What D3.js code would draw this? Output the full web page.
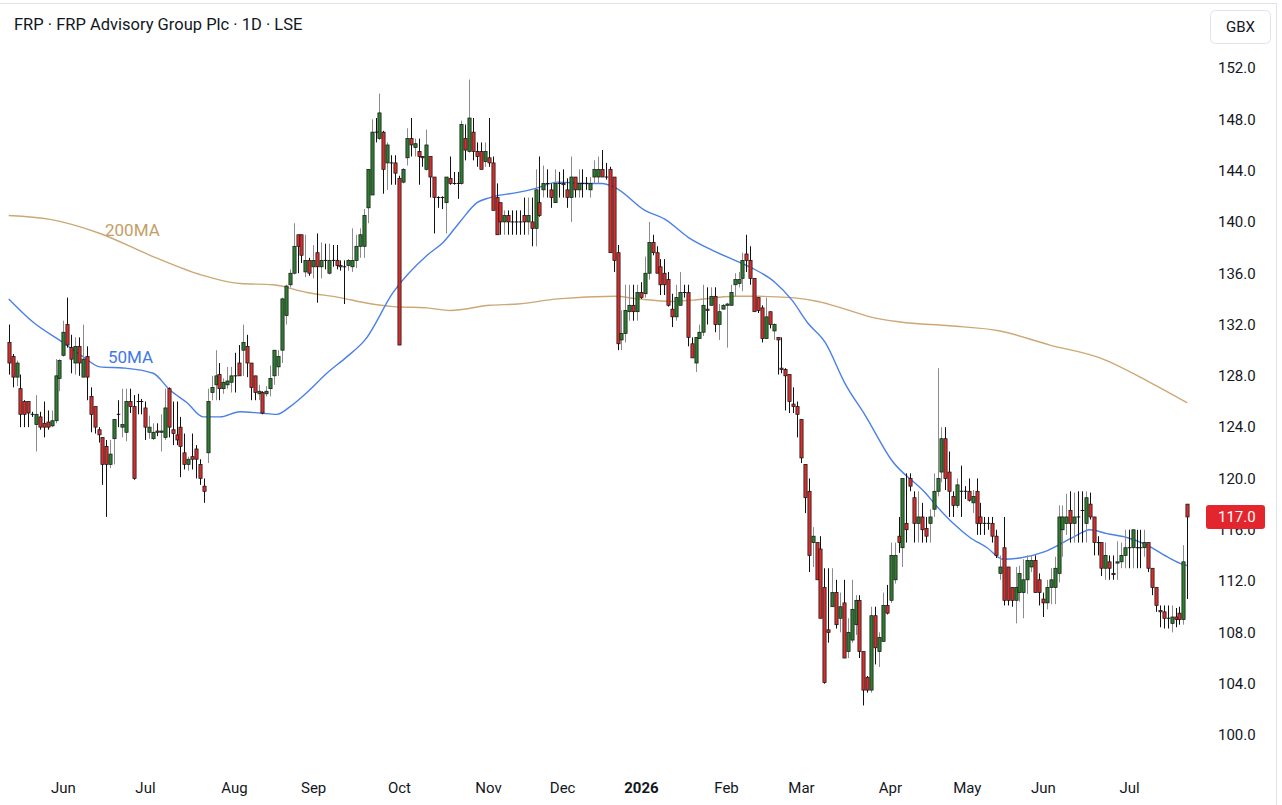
<!DOCTYPE html>
<html><head><meta charset="utf-8">
<script src="https://cdn.jsdelivr.net/npm/d3@7/dist/d3.min.js"></script>
<style>
html,body{margin:0;padding:0;background:#fff;}
svg{display:block;font-family:Roboto,"Noto Sans",sans-serif;}
</style></head><body>
<svg id="c" width="1282" height="805"></svg>
<script>
const openP=[
130.6,129.5,127.9,127.0,126.0,126.0,125.0,124.2,124.8,124.3,
124.4,124.1,124.5,127.8,129.6,132.0,130.2,129.0,130.3,127.9,
129.5,126.4,125.6,123.8,123.2,122.5,121.1,123.1,125.0,124.0,
123.6,126.0,125.6,126.0,126.0,125.5,123.6,123.1,123.7,123.6,
123.2,127.0,123.8,123.4,124.0,122.0,121.1,121.7,122.3,121.1,
119.4,122.0,126.7,127.3,128.1,127.0,127.3,127.5,128.0,129.0,
130.0,130.3,129.0,128.0,126.6,126.7,126.6,127.0,128.0,128.7,
130.0,132.7,135.1,136.0,139.0,139.0,136.1,137.0,136.5,137.6,
136.5,137.0,136.0,137.0,137.0,136.6,136.5,136.6,136.5,137.0,
138.1,138.1,141.1,142.1,147.0,146.5,147.0,144.6,144.6,144.6,
143.4,143.1,145.0,146.5,145.8,145.5,145.1,144.1,145.1,143.5,
141.9,141.9,141.5,143.4,143.0,143.0,143.0,146.5,145.5,147.0,
145.5,145.5,144.7,145.0,144.6,141.9,141.5,140.0,140.5,140.0,
140.0,140.0,140.5,140.0,140.0,139.5,141.5,142.5,143.0,142.5,
141.5,143.0,143.0,142.5,141.9,143.5,142.5,143.0,143.0,142.5,
143.5,143.5,144.1,143.5,144.1,143.5,137.6,130.8,131.3,133.0,
133.5,133.0,134.5,134.4,136.0,138.4,137.6,136.5,136.0,135.5,
133.2,132.6,133.5,134.5,134.5,130.5,129.0,130.9,131.4,133.2,
133.5,134.2,132.0,133.2,133.5,133.5,135.1,135.2,135.6,137.5,
137.0,135.6,134.1,133.3,130.9,133.0,131.5,131.0,128.6,128.5,
128.1,125.8,125.6,124.6,121.1,119.0,115.0,115.0,114.5,111.5,
108.2,110.0,111.1,109.1,110.3,106.5,107.4,108.6,110.5,106.5,
104.5,103.5,109.3,106.5,107.3,110.1,110.5,112.1,115.5,114.6,
116.5,120.0,118.5,116.5,117.0,116.1,116.5,117.6,119.0,120.5,
123.1,120.5,118.6,117.9,119.0,119.0,119.0,118.1,119.0,117.0,
116.5,116.5,116.5,115.5,112.6,114.6,113.1,111.5,110.5,111.1,
111.1,112.1,113.1,113.6,112.1,110.6,110.3,111.5,111.5,112.6,
116.0,116.5,117.5,116.5,117.0,117.5,116.5,118.0,117.0,115.0,
115.0,113.0,113.5,112.6,113.4,113.5,114.0,114.6,114.6,114.6,
114.6,114.6,115.0,113.0,111.5,109.7,109.6,109.1,108.7,109.2,
109.5,109.0,118.0];
const highP=[
132.0,129.7,129.2,128.1,126.1,126.0,125.2,126.5,125.2,126.0,
125.3,125.3,129.3,129.3,132.3,134.1,131.2,131.0,131.0,132.0,
130.3,127.1,125.6,124.0,123.2,123.0,123.0,124.6,126.1,127.0,
127.0,127.0,126.5,126.6,126.2,126.0,124.9,124.3,124.3,125.0,
127.0,127.1,126.0,126.0,124.8,123.5,121.7,123.5,122.6,121.5,
120.0,127.0,128.0,130.0,129.0,127.8,128.7,128.7,129.8,130.4,
132.0,131.2,129.0,128.0,127.3,126.8,127.2,128.8,130.0,130.0,
134.1,135.1,136.3,139.9,139.0,139.0,139.0,137.2,138.2,139.1,
138.4,138.3,138.3,138.2,138.2,137.0,137.0,137.1,139.5,139.0,
139.5,141.0,144.1,148.0,148.1,150.0,147.1,146.2,145.2,145.2,
143.6,144.2,147.3,148.1,146.5,146.5,145.1,147.2,145.1,143.5,
142.0,142.0,143.5,145.1,143.9,143.9,147.9,147.6,151.1,148.1,
146.2,146.2,146.2,148.1,145.1,143.0,141.5,140.9,140.9,140.9,
140.9,140.9,141.9,141.9,141.9,144.1,145.1,144.4,144.1,143.0,
144.1,143.9,144.1,143.4,145.1,143.5,144.1,144.1,143.5,143.5,
144.8,145.1,145.6,144.6,144.3,143.5,138.2,133.1,135.1,135.1,
135.1,135.1,135.3,137.3,140.0,139.0,138.1,137.1,137.1,136.1,
134.4,135.1,136.1,135.1,135.1,131.0,131.0,132.0,135.1,134.9,
134.9,134.9,133.6,133.6,133.7,135.1,136.0,136.1,137.6,139.0,
138.1,135.6,134.1,133.5,134.1,133.0,132.1,131.0,131.0,128.6,
128.1,127.1,126.0,124.6,121.1,120.0,116.2,115.0,115.5,113.0,
113.0,113.0,112.1,111.1,112.1,109.1,112.1,110.9,110.9,106.5,
104.6,110.0,110.0,108.0,111.1,111.7,115.0,115.0,117.0,120.0,
120.4,120.4,119.0,119.0,118.1,117.0,117.6,120.4,128.6,124.0,
124.0,122.1,119.0,120.0,121.0,119.4,120.0,119.1,120.0,118.1,
117.0,117.0,117.0,116.0,114.0,117.0,113.1,111.5,113.1,113.2,
113.7,114.0,114.0,114.0,112.6,111.1,112.1,113.0,113.9,117.9,
117.9,118.8,119.0,118.9,119.0,119.0,119.0,118.9,117.0,115.5,
115.0,115.0,114.0,114.0,115.1,115.0,116.0,116.0,116.0,116.0,
116.0,116.0,115.0,113.0,111.5,110.1,110.1,110.1,110.1,109.9,
110.0,114.8,118.0];
const lowP=[
128.1,127.1,127.2,124.0,124.0,124.0,124.8,122.1,123.8,123.2,
123.8,124.0,124.3,126.8,129.5,130.2,128.2,128.1,128.0,127.9,
126.1,123.6,123.5,122.8,119.5,117.0,120.8,121.1,124.0,123.2,
122.9,125.1,119.9,125.0,125.0,123.0,123.1,123.0,123.3,122.1,
123.0,123.2,122.6,122.6,120.1,120.7,120.6,120.7,120.0,119.5,
118.1,121.2,126.1,126.1,126.1,126.6,127.0,126.7,126.7,128.0,
128.0,127.9,126.1,126.1,126.1,125.0,126.4,126.4,127.3,128.0,
129.0,132.0,134.9,135.9,136.0,136.8,135.7,135.8,135.6,133.7,
135.6,136.3,135.9,136.5,136.3,136.2,133.6,136.2,136.1,136.4,
137.2,137.2,139.9,142.1,146.2,146.4,142.2,142.5,142.9,142.9,
130.4,143.0,144.4,145.1,145.1,142.9,144.3,144.0,141.9,139.1,
141.1,141.0,139.1,142.9,142.9,141.8,142.9,144.8,145.4,144.8,
144.3,144.1,144.3,144.3,140.9,139.0,139.0,139.0,139.0,139.0,
139.0,139.0,139.0,139.0,138.1,138.1,140.4,141.9,141.9,141.1,
141.5,141.9,141.9,141.1,140.0,141.9,141.9,141.9,142.5,141.9,
143.0,143.0,143.5,143.3,137.6,136.1,130.0,130.0,130.6,132.3,
132.3,132.3,134.0,134.1,135.5,137.4,136.0,134.3,134.3,133.4,
131.8,132.3,133.5,134.1,130.3,129.4,128.3,130.9,131.1,132.0,
133.5,131.4,130.8,133.2,130.2,133.5,134.2,134.9,134.6,136.1,
135.1,133.0,132.9,130.6,130.9,131.7,130.8,128.1,128.2,125.3,
125.1,125.1,123.2,121.2,117.3,112.7,113.1,112.1,109.1,104.0,
107.2,110.0,108.3,108.0,106.0,106.0,107.2,107.8,106.0,102.3,
103.3,103.3,105.5,105.3,107.3,109.4,110.3,111.8,114.2,113.1,
115.0,119.0,115.0,115.0,115.0,115.0,115.0,117.0,118.6,119.7,
119.1,117.0,117.0,117.7,117.0,118.4,118.2,117.3,115.6,115.6,
115.6,116.0,115.0,113.8,112.1,110.1,110.1,110.0,108.7,110.4,
109.1,111.0,112.7,111.1,110.1,109.2,109.8,110.2,110.2,111.9,
113.9,115.6,115.0,115.0,115.0,115.0,115.0,116.8,114.0,114.0,
112.4,112.1,112.1,112.1,112.1,113.0,113.0,113.0,113.0,113.0,
113.0,113.9,112.7,110.9,109.6,108.4,108.3,108.3,108.0,108.4,
108.6,108.6,110.6];
const closeP=[
129.0,127.9,129.0,125.0,125.0,125.1,125.0,125.0,124.0,124.0,
124.0,124.5,128.0,129.2,131.4,130.4,129.3,130.3,129.0,129.3,
127.9,125.0,124.0,123.4,121.1,121.1,121.9,124.6,125.0,124.2,
126.0,125.6,120.0,126.0,126.0,124.0,124.0,123.6,123.6,123.7,
125.5,124.0,123.5,123.0,122.5,121.1,121.5,121.5,121.5,120.0,
119.0,126.0,127.1,128.0,127.0,127.5,127.6,128.0,128.0,128.0,
130.6,129.0,127.1,126.7,126.8,125.1,126.8,127.8,130.0,129.5,
134.0,135.0,136.0,138.1,138.1,137.4,137.0,136.0,137.0,136.5,
137.0,137.0,137.0,137.0,136.6,136.5,136.5,137.0,137.0,138.1,
139.0,140.5,144.1,147.0,147.0,148.5,144.1,146.0,144.6,143.8,
130.4,144.1,146.5,146.0,146.1,145.1,145.0,146.0,143.5,141.9,
141.9,141.9,143.5,143.0,143.0,143.0,147.6,145.6,148.1,145.5,
145.1,144.1,145.5,144.6,140.9,139.0,140.0,140.5,140.0,140.0,
140.0,140.0,140.0,140.5,139.5,142.5,140.5,143.0,143.0,141.9,
143.0,143.0,142.9,141.9,143.5,142.5,143.0,143.0,143.0,143.0,
144.1,144.1,143.5,143.5,137.6,137.0,130.5,131.3,133.1,133.5,
133.0,134.5,134.1,136.0,138.4,137.6,136.0,135.1,135.1,133.5,
132.6,134.1,134.5,134.5,131.0,129.4,131.0,131.4,133.5,133.1,
134.2,132.0,133.0,133.5,133.6,134.5,135.5,135.5,137.0,137.0,
135.6,133.0,133.1,130.9,132.6,132.0,132.0,130.8,128.5,128.0,
126.0,125.6,125.0,121.6,118.5,114.0,115.5,112.1,109.1,104.1,
108.0,111.1,108.6,110.0,106.0,108.0,109.8,110.5,106.5,103.5,
103.5,109.3,106.8,107.6,110.1,109.5,114.0,114.0,115.0,120.0,
116.0,119.4,116.5,117.0,116.0,115.5,117.0,119.0,120.0,123.1,
120.0,119.0,117.9,119.5,119.0,119.0,118.3,118.6,116.5,116.5,
116.5,116.5,115.5,114.0,113.1,110.5,110.5,110.5,111.5,112.6,
112.1,113.6,113.6,111.1,111.1,110.3,111.5,112.1,113.0,117.0,
117.0,117.0,116.5,117.0,117.0,117.5,118.5,117.0,115.0,115.0,
113.0,114.0,113.0,112.5,113.5,114.0,114.6,114.6,116.0,114.6,
114.6,115.0,113.0,111.5,110.1,109.6,109.1,109.1,109.2,109.0,
109.0,113.5,117.0];

const ma50Idx=[0,6.2,13.9,19.0,23.4,29.8,37.0,41.3,45.7,49.8,54.1,59.2,64.4,68.7,72.1,76.4,81.5,86.7,91.3,98.5,107.2,111.3,115.6,120.0,123.3,130.5,134.8,140.7,147.7,152.0,155.3,163.0,168.2,174.1,180.2,186.1,190.5,196.3,200.7,204.8,209.2,214.3,219.5,226.3,234.8,237.9,242.0,246.3,250.7,254.8,259.1,265.5,272.7,277.1,281.4,286.5,291.7,296.8,300.9,302];
const ma50Val=[134.0,132.2,130.6,129.5,128.7,128.6,128.2,126.9,125.9,124.8,124.8,125.2,125.1,125.0,125.6,126.7,128.2,129.5,130.8,134.5,137.4,138.4,140.0,141.5,141.9,142.3,142.6,143.1,143.0,143.0,142.7,140.9,140.2,138.8,137.8,137.0,136.4,135.3,133.9,132.1,130.6,127.4,124.9,121.4,118.9,117.8,116.5,115.4,114.6,113.7,113.8,114.3,115.4,116.0,115.7,115.4,114.8,113.9,113.3,113.2];
const ma200Idx=[0,10.6,23.4,36.2,49.0,59.3,67.7,76.4,84.9,91.3,98.5,107.2,113.1,123.3,130.5,140.7,155.3,161.2,170.0,175.1,186.1,192.0,200.7,207.4,214.3,220.7,228.4,241.2,254.0,266.8,279.6,292.4,302];
const ma200Val=[140.5,140.2,139.1,137.4,135.9,135.2,135.1,134.5,134.1,133.7,133.4,133.3,133.1,133.5,133.6,134.0,134.2,134.0,133.8,133.9,134.2,134.2,134.1,133.8,133.2,132.6,132.2,131.9,131.5,130.4,129.4,127.5,125.9];

const monthLabels=["Jun","Jul","Aug","Sep","Oct","Nov","Dec","2026","Feb","Mar","Apr","May","Jun","Jul"];
const monthIdx=[13.9,34.9,57.7,78.0,100,122.8,141.8,162.0,183.8,203.0,225.8,245.5,265.0,287.1];
const priceTicks=[100,104,108,112,116,120,124,128,132,136,140,144,148,152];
const lastPrice=117.0;
const titleText="FRP \u00b7 FRP Advisory Group Plc \u00b7 1D \u00b7 LSE";

const svg=d3.select('#c');
const W=1282,H=805;
const n=closeP.length;
const x=d3.scaleLinear().domain([0,n-1]).range([8.75,1187.3]);
const y=d3.scaleLinear().domain([100,152]).range([735,68]);

svg.append('rect').attr('width',W).attr('height',H).attr('fill','#fff');
// frame
svg.append('line').attr('x1',0).attr('x2',1277).attr('y1',3.5).attr('y2',3.5).attr('stroke','#e0e3eb');
svg.append('line').attr('x1',1276.5).attr('x2',1276.5).attr('y1',3).attr('y2',H).attr('stroke','#e0e3eb');

svg.append('clipPath').attr('id','pc').append('rect').attr('x',0).attr('y',4).attr('width',1198).attr('height',765);
const plot=svg.append('g').attr('clip-path','url(#pc)');

// moving averages
const line=d3.line().x(d=>x(d[0])).y(d=>y(d[1])).curve(d3.curveMonotoneX);
plot.append('path').datum(ma200Idx.map((v,i)=>[v,ma200Val[i]]))
  .attr('d',line).attr('fill','none').attr('stroke','#cda874').attr('stroke-width',1.4);
plot.append('path').datum(ma50Idx.map((v,i)=>[v,ma50Val[i]]))
  .attr('d',line).attr('fill','none').attr('stroke','#4a80e8').attr('stroke-width',1.4);

// candles
const data=d3.range(n).map(i=>({i,o:openP[i],h:highP[i],l:lowP[i],c:closeP[i]}));
const cg=plot.append('g');
const bw=3.2;
cg.selectAll('line.w').data(data).join('line').attr('class','w')
  .attr('x1',d=>Math.round(x(d.i))+0.5).attr('x2',d=>Math.round(x(d.i))+0.5)
  .attr('y1',d=>y(d.h)).attr('y2',d=>y(d.l))
  .attr('stroke',d=>d.c>d.o?'#8c8c8c':'#111').attr('stroke-width',1);
cg.selectAll('rect.b').data(data.filter(d=>Math.abs(y(d.o)-y(d.c))>=1.2)).join('rect').attr('class','b')
  .attr('x',d=>Math.round(x(d.i))+0.5-bw/2).attr('width',bw)
  .attr('y',d=>y(Math.max(d.o,d.c))).attr('height',d=>Math.abs(y(d.o)-y(d.c)))
  .attr('fill',d=>d.c>d.o?'#2e7d32':'#d32f2f').attr('stroke','#111').attr('stroke-width',0.7);
cg.selectAll('line.dj').data(data.filter(d=>Math.abs(y(d.o)-y(d.c))<1.2)).join('line').attr('class','dj')
  .attr('x1',d=>Math.round(x(d.i))+0.5-bw/2-0.2).attr('x2',d=>Math.round(x(d.i))+0.5+bw/2+0.2)
  .attr('y1',d=>y((d.o+d.c)/2)).attr('y2',d=>y((d.o+d.c)/2))
  .attr('stroke','#111').attr('stroke-width',1);

// MA labels
svg.append('text').attr('x',105).attr('y',236).attr('font-size',17).attr('fill','#c49e66').text('200MA');
svg.append('text').attr('x',108).attr('y',363).attr('font-size',17).attr('fill','#3f78e6').text('50MA');

// title
svg.append('text').attr('x',14).attr('y',30).attr('font-size',16.5).attr('fill','#131722').text(titleText);

// price axis
const yAxis=d3.axisRight(y).tickValues(priceTicks).tickSize(0).tickPadding(10).tickFormat(d3.format('.1f'));
const ya=svg.append('g').attr('transform','translate(1208,0)').call(yAxis);
ya.select('.domain').remove();
ya.selectAll('text').attr('font-size',15).attr('fill','#131722').attr('font-family','Roboto,"Noto Sans",sans-serif');

// time axis
const xAxis=d3.axisBottom(x).tickValues(monthIdx).tickSize(0).tickPadding(0).tickFormat((d,i)=>monthLabels[i]);
const xa=svg.append('g').attr('transform','translate(0,788)').call(xAxis);
xa.select('.domain').remove();
xa.selectAll('text').attr('font-size',15).attr('fill','#131722').attr('dy','0.32em')
  .attr('font-family','Roboto,"Noto Sans",sans-serif')
  .attr('font-weight',(d,i)=>monthLabels[i]==='2026'?'bold':'normal');

// GBX box
svg.append('rect').attr('x',1210.5).attr('y',10.5).attr('width',60).attr('height',33).attr('rx',5)
  .attr('fill','#fff').attr('stroke','#e0e3eb');
svg.append('text').attr('x',1240.5).attr('y',27).attr('text-anchor','middle').attr('dominant-baseline','central')
  .attr('font-size',15).attr('fill','#131722').text('GBX');

// last price label
const ly=y(lastPrice);
svg.append('rect').attr('x',1206).attr('y',ly-12).attr('width',59).attr('height',24).attr('rx',3).attr('fill','#e3262d');
svg.append('text').attr('x',1218).attr('y',ly).attr('dominant-baseline','central')
  .attr('font-size',15).attr('fill','#fff').text(d3.format('.1f')(lastPrice));
</script>
</body></html>
